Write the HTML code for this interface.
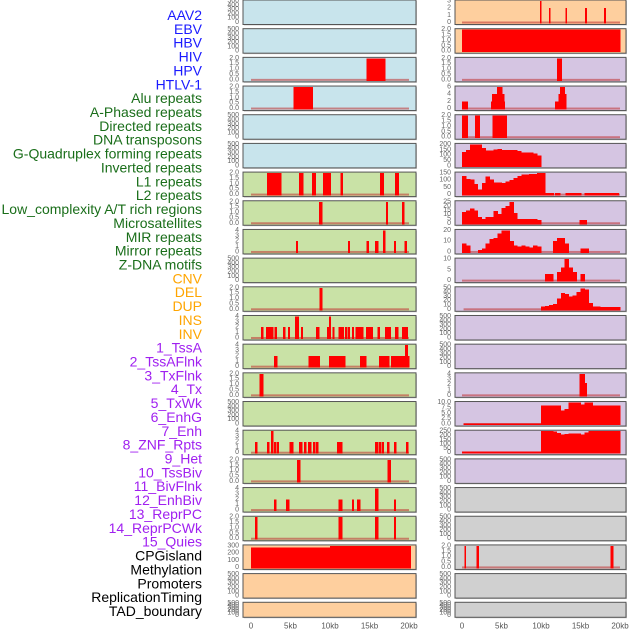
<!DOCTYPE html>
<html><head><meta charset="utf-8"><style>
html,body{margin:0;padding:0;background:#fff;width:630px;height:630px;overflow:hidden}
svg{display:block}
</style></head><body>
<svg id="chart" width="630" height="630" xmlns="http://www.w3.org/2000/svg"></svg>
<script>
// ---------- data ----------
const trackLabels=["AAV2","EBV","HBV","HIV","HPV","HTLV-1","Alu repeats","A-Phased repeats","Directed repeats","DNA transposons","G-Quadruplex forming repeats","Inverted repeats","L1 repeats","L2 repeats","Low_complexity A/T rich regions","Microsatellites","MIR repeats","Mirror repeats","Z-DNA motifs","CNV","DEL","DUP","INS","INV","1_TssA","2_TssAFlnk","3_TxFlnk","4_Tx","5_TxWk","6_EnhG","7_Enh","8_ZNF_Rpts","9_Het","10_TssBiv","11_BivFlnk","12_EnhBiv","13_ReprPC","14_ReprPCWk","15_Quies","CPGisland","Methylation","Promoters","ReplicationTiming","TAD_boundary"];
const labelColors=["#1a1aff","#1a1aff","#1a1aff","#1a1aff","#1a1aff","#1a1aff","#1a6e1a","#1a6e1a","#1a6e1a","#1a6e1a","#1a6e1a","#1a6e1a","#1a6e1a","#1a6e1a","#1a6e1a","#1a6e1a","#1a6e1a","#1a6e1a","#1a6e1a","#ffa500","#ffa500","#ffa500","#ffa500","#ffa500","#a020f0","#a020f0","#a020f0","#a020f0","#a020f0","#a020f0","#a020f0","#a020f0","#a020f0","#a020f0","#a020f0","#a020f0","#a020f0","#a020f0","#a020f0","#000","#000","#000","#000","#000"];
const xTickValues=[0,5,10,15,20];
const xTickLabels=["0","5kb","10kb","15kb","20kb"];
const ticks500=[0,100,200,300,400,500];
const ticks2=[0,0.5,1,1.5,2];
const ticks4=[0,1,2,3,4];
// left column segment data [startKb,endKb,value]
const hivBars=[[14.6,17.0,2]];
const hpvBars=[[5.4,7.8,2]];
const l1Bars=[[2.0,3.8,2],[6.1,6.6,2],[7.7,8.2,2],[9.1,10.1,2],[11.3,11.6,2],[16.3,16.8,2],[18.2,18.7,2]];
const lowCompBars=[[8.6,9.0,2],[17.1,17.3,2],[19.1,19.4,2]];
const microsatBars=[[5.7,5.9,2],[12.3,12.5,2],[14.6,14.9,2],[15.7,16.1,2],[16.7,17.0,4],[18.1,18.3,2],[19.4,19.7,2]];
const zdnaBars=[[8.7,9.0,2]];
const delBarsL=[[1.27,1.52,2],[1.9,2.8,2],[3.0,3.25,2],[4.05,4.3,2],[4.7,4.9,2],[5.57,6.0,4],[6.3,6.5,2],[8.2,8.6,2],[9.6,9.9,2],[9.9,10.1,4],[10.3,10.55,2],[11.1,11.7,2],[11.9,12.15,2],[12.3,12.5,2],[12.8,13.0,2],[13.2,14.2,2],[14.55,15.4,2],[16.0,16.3,2],[16.96,17.7,2],[18.2,18.6,2],[19.1,19.8,2]];
const dupBars=[[2.9,3.3,2],[7.25,8.7,2],[9.9,11.9,2],[13.8,14.55,2],[16.2,17.5,2],[17.7,20.0,2],[19.5,19.8,4]];
const insBars=[[1.1,1.5,2]];
const tssaBars=[[0.5,0.75,2],[2.0,2.3,2],[2.5,2.8,4],[2.9,3.2,2],[3.3,3.5,2],[4.9,5.3,2],[6.1,6.45,2],[6.7,6.96,2],[7.2,7.6,2],[7.85,8.1,2],[8.2,8.5,2],[10.9,11.5,2],[15.7,16.1,2],[16.2,16.45,2],[16.6,16.8,2],[17.2,17.5,2],[18.1,18.35,2],[19.6,19.9,2]];
const tssFlnkBars=[[5.8,6.2,2],[17.3,17.7,2]];
const txFlnkBars=[[2.9,3.2,2],[4.4,4.8,2],[11.1,11.5,2],[12.8,13.0,2],[13.4,13.8,2],[15.7,16.1,4],[18.1,18.3,2]];
const txBars=[[0.5,0.75,2],[11.1,11.5,2],[15.7,16.1,2],[18.1,18.3,2]];
const cpgBars=[[0,10,280],[10,20.2,300]];
// right column
const aavBars=[[9.85,10.0,3],[11.0,11.15,2],[13.1,13.25,2],[15.6,15.75,2],[18.0,18.15,2]];
const ebvBars=[[0,20,2]];
const hbvBars=[[12.0,12.6,2]];
const aluBars=[[0,0.7,2],[3.7,5.4,2],[3.8,5.3,4],[4.4,5.1,6],[11.8,13.2,2],[12.2,13.2,4],[12.4,13.0,6]];
const aphBars=[[0,0.7,2],[1.65,2.2,2],[3.85,5.65,2]];
const gquadVals=[130,150,200,220,220,165,142,142,152,155,148,148,150,150,140,125,125,125,115,95];
const l1RVals=[130,110,105,75,35,80,125,105,85,85,80,90,100,115,130,140,140,145,145,160,175];
const l1RBars=[[10.1,11.6,12],[11.8,12.4,12],[13.1,15.1,12],[15.5,19.8,12]];
const lowRVals=[13,15,17,15,7,5,7,7,14,11,18,20,25,12,5,5,5,5,5,4];
const lowRBars=[[14.9,15.8,4]];
const mirVals=[8,6,0,0,2,3,8,12,13,17,26,24,10,6,5,6,5,4,6,5,0,0,0,10,13,13,8,0,0,0,3,3];
const zdnaRVals=[3,3,0,4,6,14,6,4,0,3];
const delRVals=[7,8,10,12,25,38,36,30,32,40,48,46,15,7,6,5,5,5,5,5];
const txRBars=[[14.9,15.5,4],[15.5,15.8,2.3]];
const txWkVals=[8.5,8.5,8.5,8.5,8.5,6.3,7,10,10,10,9,10,10,8.5,8.5,8.5,8.5,8.5,8.5,8.5];
const txWkLow=[[0.2,10,0.3]];
const enhGVals=[250,250,250,245,230,210,220,225,225,225,210,235,250,250,250,250,250,250,250,250];
const enhGLow=[[0,10,15]];
const promBars=[[0.3,0.45,2],[1.85,2.1,2],[18.8,19.1,2]];

const colL={x:243,w:173,x0:251,bg:["#c8e4ec","#c8e4ec","#c8e4ec","#c8e4ec","#c8e4ec","#c8e4ec","#c9e2a6","#c9e2a6","#c9e2a6","#c9e2a6","#c9e2a6","#c9e2a6","#c9e2a6","#c9e2a6","#c9e2a6","#c9e2a6","#c9e2a6","#c9e2a6","#c9e2a6","#fecf9e","#fecf9e","#fecf9e"]};
const colR={x:455,w:171,x0:462,bg:["#fecf9e","#fecf9e","#d5c5e2","#d5c5e2","#d5c5e2","#d5c5e2","#d5c5e2","#d5c5e2","#d5c5e2","#d5c5e2","#d5c5e2","#d5c5e2","#d5c5e2","#d5c5e2","#d5c5e2","#d5c5e2","#d5c5e2","#d0d0d0","#d0d0d0","#d0d0d0","#d0d0d0","#d0d0d0"]};
const E=null;
const leftPanels=[
 [ticks500],[ticks500],[ticks2,hivBars,E,0,[0,20]],[ticks2,hpvBars,E,0,[0,20]],[ticks500],[ticks500],
 [ticks2,l1Bars,E,0,[0,20]],[ticks2,lowCompBars,E,0,[0,20]],[ticks4,microsatBars,E,0,[0,20]],[ticks500],
 [ticks2,zdnaBars,E,0,[0,20]],[ticks4,delBarsL,E,0,[0,20]],[ticks4,dupBars,E,0,[0,20]],[ticks2,insBars,E,0,[0,20]],
 [ticks500],[ticks4,tssaBars,E,0,[0,20]],[ticks2,tssFlnkBars,E,0,[0,20]],[ticks4,txFlnkBars,E,0,[0,20]],
 [ticks2,txBars,E,0,[0,20]],[[0,100,200,300],cpgBars],[ticks500],[ticks500]];
const rightPanels=[
 [[0,1,2,3],aavBars,E,0,[0,20]],[ticks2,ebvBars],[ticks2,hbvBars,E,0,[0,20]],[[0,2,4,6],aluBars,E,0,[0,20]],
 [ticks2,aphBars,E,0,[0,20]],[[0,50,100,150,200],E,gquadVals,0],[[0,50,100,150],l1RBars,l1RVals,0,[0,20]],
 [[0,5,10,15,20,25],lowRBars,lowRVals,0,[0,20]],[[0,10,20],E,mirVals,0,[0,20]],[[0,5,10],E,zdnaRVals,10.5,[0,20]],
 [[0,10,20,30,40,50],E,delRVals,10,[0.2,10]],[ticks500],[ticks500],[ticks4,txRBars,E,0,[0,20]],
 [[0,2.5,5,7.5,10],txWkLow,txWkVals,10,[0.2,10]],[[0,50,100,150,200,250],enhGLow,enhGVals,10],[ticks500],
 [ticks500],[ticks500],[ticks2,promBars,E,0,[0,20]],[ticks500],[ticks500]];

// ---------- drawing ----------
const svg=document.getElementById('chart');
const NS="http://www.w3.org/2000/svg";
function mk(tag,attrs,parent){const e=document.createElementNS(NS,tag);for(const k in attrs)e.setAttribute(k,attrs[k]);(parent||svg).appendChild(e);return e;}
const PX=7.9, ROW=28.68;
trackLabels.forEach((t,i)=>{
  const e=mk('text',{x:202,y:15+i*13.86,'text-anchor':'end','dominant-baseline':'central','font-family':'Liberation Sans, sans-serif','font-size':'14',fill:labelColors[i]});
  e.textContent=t;
  
  
});
function fmt(v,tk){const dec=tk.some(x=>x%1!==0);return dec?v.toFixed(1):String(v);}
function drawPanel(col,spec,i,side){
  const top=i*ROW, h=(i===21?15:24.5);
  const g=mk('g',{});
  
  
  mk('rect',{x:col.x+1,y:top+1,width:col.w,height:h,fill:'#999','opacity':0.5},g);
  mk('rect',{x:col.x,y:top,width:col.w,height:h,fill:col.bg[i],stroke:'#555','stroke-width':1},g);
  const tk=spec[0], ymax=tk[tk.length-1];
  const y0=top+h-2, y1=top+1;
  const ys=v=>y0-(v/ymax)*(y0-y1);
  const xs=k=>col.x0+k*PX;
  tk.forEach(v=>{
    const t=mk('text',{x:col.x-4,y:ys(v),'text-anchor':'end','dominant-baseline':'central','font-family':'Liberation Sans, sans-serif','font-size':'7',fill:'#666'},g);
    t.textContent=fmt(v,tk);
    
    
  });
  if(spec[4]){const b=spec[4];
    const r=mk('rect',{x:xs(b[0]),y:y0-1,width:(b[1]-b[0])*PX,height:2,fill:'#c03030',opacity:0.55},g);
    
    }
  const draw=(a,b,v)=>{if(v<=0)return;
    const r=mk('rect',{x:xs(a),y:ys(Math.min(v,ymax)),width:(b-a)*PX+0.4,height:y0-ys(Math.min(v,ymax))+1,fill:'#ff0000','shape-rendering':'crispEdges'},g);
    
    };
  if(spec[1])spec[1].forEach(s=>draw(s[0],s[1],s[2]));
  if(spec[2]){const st=spec[3]||0;spec[2].forEach((v,j)=>draw(st+j*0.5,st+j*0.5+0.5,v));}
}
leftPanels.forEach((s,i)=>drawPanel(colL,s,i,'left'));
rightPanels.forEach((s,i)=>drawPanel(colR,s,i,'right'));
[colL,colR].forEach((col,c)=>{
  xTickValues.forEach((v,j)=>{
    const t=mk('text',{x:col.x0+v*PX,y:626,'text-anchor':'middle','dominant-baseline':'central','font-family':'Liberation Sans, sans-serif','font-size':'8',fill:'#555'});
    t.textContent=xTickLabels[j];
    
    
  });
});
</script>
</body></html>
